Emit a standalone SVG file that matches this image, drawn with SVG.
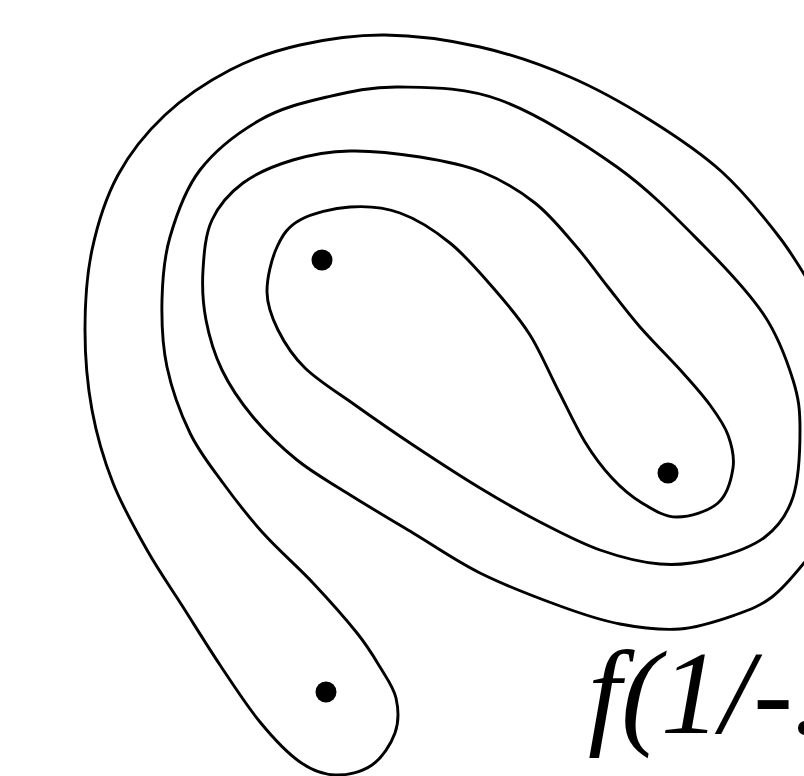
<svg xmlns="http://www.w3.org/2000/svg" width="804" height="776" viewBox="0 0 804 776">
<style>
.curve{fill:none;stroke:#000;stroke-width:2.9;stroke-linecap:round;stroke-linejoin:round}
.dot{fill:#000}
.lbl{font-family:"Liberation Serif","Times New Roman",serif;font-style:italic;font-size:119px;fill:#000}
</style>
<rect width="804" height="776" fill="#fff"/>
<g id="connectors">
<path class="curve" d="M840,330 C833.3,319.7 830,315.3 820,300 S796.3,259.3 780,238 S743.7,191.7 722,172 S675.3,135.8 650,120 S598.3,89.2 570,77 S510.8,54 480,47 S415,35.3 385,35 S325.8,39.2 300,45 S252.5,58.3 230,70 S183.7,97.5 165,115 S130.2,152.5 118,175 S97.5,224.2 92,250 S85,303.3 85,330 S87.3,384.5 92,410 S103.8,459.7 113,483 S135.3,529.3 147,550 S170.8,587.8 183,607 S207.2,645.8 220,665 S246.7,705.8 260,722 S287.5,753.2 300,762 S323,774.5 335,775 S362,772 372,765 S391,744.2 395,733 S398.5,709 396,698 S386.5,677.8 380,667 S368.2,647 357,633 S328.7,599.7 313,583 S278,549.7 263,533 S235.2,499.7 223,483 S199.3,452.3 190,433 S171.7,389.2 167,367 S161.5,321.7 162,300 S163.7,258.7 170,237 S185,189.5 200,170 S238.8,132.2 260,120 S303.7,102.5 327,97 S371.2,86.5 400,87 S463.8,86.7 500,100 S583.2,142.8 617,167 S678.5,220.3 703,245 S749,292.5 764,315 S787,360.8 793,380 S800,410.5 800,430 S798.8,479.2 793,497 S778.5,526.7 765,537 S729.5,554.5 712,559 S678.7,565.5 660,564 S620,557 600,550 S560,532.3 540,522 S501.2,500.8 480,488 S433.8,458.8 413,445 S373,417.8 355,405 S317.8,380.5 305,368 S284.3,342.7 278,330 S267.2,305.8 267,292 S271.5,259 277,247 S287.8,226.7 300,220 S333.3,208.2 350,207 S383.3,207 400,213 S434.2,230.2 450,243 S481.7,274.7 495,290 S519.5,318.3 530,335 S548.8,372.2 558,390 S576,427.3 585,442 S602.5,467.8 612,478 S631.2,496.5 642,503 S664.3,517 677,517 S708.7,511.2 718,503 S731.3,479.3 733,468 S731.8,445.5 728,435 S717.5,415.3 710,405 S694.7,386 683,373 S652.5,341.3 640,327 S618.8,300.7 608,287 S587.2,259 575,245 S550.5,215.2 535,203 S501.2,179.7 482,172 S442,160.5 420,157 S371.2,150.5 350,151 S310.8,154.7 293,160 S256.5,173 243,183 S218.7,205.5 212,220 S204,253.3 203,270 S202.8,303.3 206,320 S214.2,353.8 222,370 S240.5,402 253,417 S281.3,447.3 297,460 S327.7,480.8 347,493 S390.8,519.7 413,533 S455.5,560.8 480,573 S536.7,597.5 560,606 S600,620.2 620,624 S660.8,630.5 680,629 S719.7,620.3 735,615 S760.5,605.7 772,597 S794.3,575 804,563 S822.3,537.2 830,525"/>
</g>
<g id="point-a"><circle class="dot" cx="322" cy="260" r="10.5"/></g>
<g id="point-b"><circle class="dot" cx="668" cy="473" r="10.5"/></g>
<g id="point-c"><circle class="dot" cx="326" cy="692" r="10.5"/></g>
<g id="label"><text class="lbl" x="588" y="733">f(1/-.</text></g>
</svg>
